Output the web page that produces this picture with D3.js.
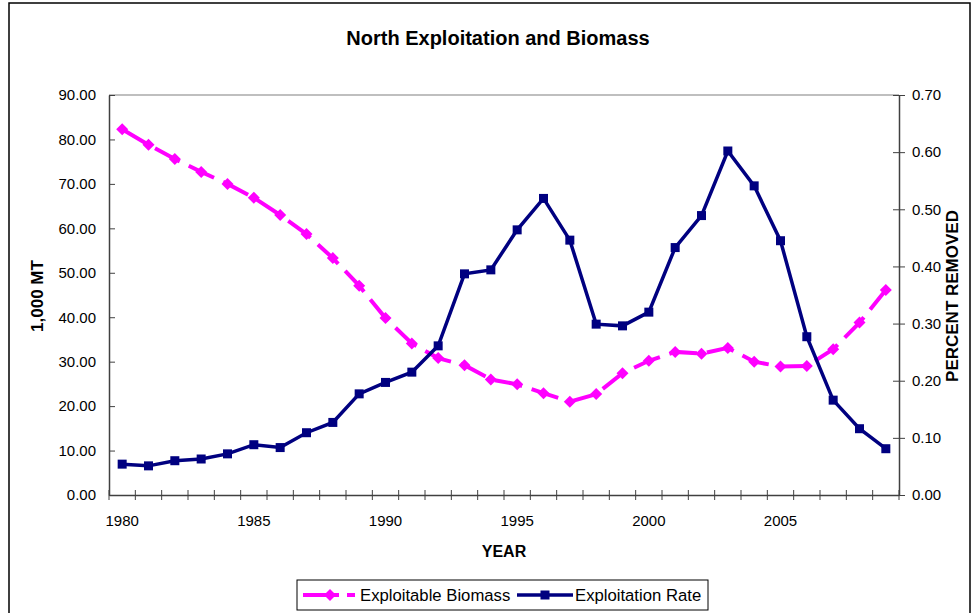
<!DOCTYPE html>
<html><head><meta charset="utf-8">
<script src="https://cdn.jsdelivr.net/npm/d3@7"></script>
<style>
html,body{margin:0;padding:0;background:#fff;}
svg{display:block;font-family:"Liberation Sans",Arial,sans-serif;}
</style></head>
<body>
<svg id="chart" width="974" height="613"></svg>
<script>
const years = d3.range(1980, 2010);
const biomass = [82.3,78.8,75.6,72.7,70.0,66.9,63.0,58.7,53.3,47.1,39.8,34.1,30.8,29.2,26.0,24.9,22.9,21.0,22.7,27.4,30.2,32.2,31.8,33.1,30.0,28.9,29.0,32.8,38.8,46.1];
const exploitation = [0.054,0.051,0.060,0.063,0.072,0.088,0.083,0.109,0.127,0.177,0.197,0.215,0.261,0.387,0.394,0.464,0.519,0.446,0.299,0.296,0.320,0.433,0.489,0.602,0.541,0.445,0.277,0.166,0.116,0.081];
const leftTicks = [0,10,20,30,40,50,60,70,80,90];
const rightTicks = [0,0.1,0.2,0.3,0.4,0.5,0.6,0.7];
const labelYears = [1980,1985,1990,1995,2000,2005];

const svg = d3.select("#chart");
const L = 109, R = 899, T = 95, B = 495;
const pink = "#FF00FF", navy = "#000080", axisCol = "#404040";

// outer frame
svg.append("rect").attr("x",9).attr("y",3).attr("width",961).attr("height",660)
  .attr("fill","none").attr("stroke","#000").attr("stroke-width",1.5);

const x = d3.scaleBand().domain(years).range([L,R]).paddingInner(0).paddingOuter(0);
const yL = d3.scaleLinear().domain([0,90]).range([B,T]);
const yR = d3.scaleLinear().domain([0,0.7]).range([B,T]);
const cx = d => x(d) + x.bandwidth()/2;

// plot area border (top)
svg.append("line").attr("x1",L).attr("x2",R).attr("y1",T).attr("y2",T)
  .attr("stroke","#808080").attr("stroke-width",1.2);

// left axis
const gl = svg.append("g").attr("transform",`translate(${L},0)`)
  .call(d3.axisLeft(yL).tickValues(leftTicks).tickFormat(d3.format(".2f")).tickSizeInner(6).tickSizeOuter(0).tickPadding(7));
gl.selectAll(".tick line").attr("x2",6);
// right axis
const gr = svg.append("g").attr("transform",`translate(${R},0)`)
  .call(d3.axisRight(yR).tickValues(rightTicks).tickFormat(d3.format(".2f")).tickSizeInner(6).tickSizeOuter(0).tickPadding(7));
gr.selectAll(".tick line").attr("x1",-6);
// bottom axis
const gb = svg.append("g").attr("transform",`translate(0,${B})`)
  .call(d3.axisBottom(x).tickValues([]).tickSizeOuter(0));
const bounds = years.map(d => x(d)).concat([R]);
gb.selectAll(".bt").data(bounds).enter().append("line").attr("class","bt")
  .attr("x1",d=>d).attr("x2",d=>d).attr("y1",-5).attr("y2",5).attr("stroke",axisCol);
gb.selectAll(".bl").data(labelYears).enter().append("text").attr("class","bl")
  .attr("x",d=>cx(d)).attr("y",31).attr("text-anchor","middle")
  .attr("fill","#000").attr("font-size",15).text(d=>d);

[gl,gr,gb].forEach(g=>{
  g.selectAll("path.domain").attr("stroke",axisCol).attr("stroke-width",1.5);
  g.selectAll(".tick line").attr("stroke",axisCol);
  g.selectAll(".tick text").attr("font-size",15).attr("fill","#000")
    .attr("font-family","Liberation Sans, Arial, sans-serif");
});

// titles
svg.append("text").attr("x",498).attr("y",45).attr("text-anchor","middle")
  .attr("font-size",20).attr("font-weight","bold").text("North Exploitation and Biomass");
svg.append("text").attr("x",504).attr("y",557).attr("text-anchor","middle")
  .attr("font-size",16).attr("font-weight","bold").text("YEAR");
svg.append("text").attr("transform","translate(43,296) rotate(-90)").attr("text-anchor","middle")
  .attr("font-size",17).attr("font-weight","bold").text("1,000 MT");
svg.append("text").attr("transform","translate(958,296) rotate(-90)").attr("text-anchor","middle")
  .attr("font-size",17).attr("font-weight","bold").text("PERCENT REMOVED");

// diamond marker (square rotated 45deg)
const dia = s => `M0,${-s}L${s},0L0,${s}L${-s},0Z`;

// biomass series
const lineB = d3.line().x((d,i)=>cx(years[i])).y(d=>yL(d));
svg.append("path").datum(biomass).attr("d",lineB).attr("fill","none")
  .attr("stroke",pink).attr("stroke-width",4).attr("stroke-dasharray","28,10");
svg.selectAll(".dm").data(biomass).enter().append("path").attr("class","dm")
  .attr("d",dia(6)).attr("fill",pink)
  .attr("transform",(d,i)=>`translate(${cx(years[i])},${yL(d)})`);

// exploitation series
const lineE = d3.line().x((d,i)=>cx(years[i])).y(d=>yR(d));
svg.append("path").datum(exploitation).attr("d",lineE).attr("fill","none")
  .attr("stroke",navy).attr("stroke-width",3.5);
svg.selectAll(".sq").data(exploitation).enter().append("rect").attr("class","sq")
  .attr("x",(d,i)=>cx(years[i])-4.5).attr("y",d=>yR(d)-4.5)
  .attr("width",9).attr("height",9).attr("fill",navy);

// legend
const lg = svg.append("g");
lg.append("rect").attr("x",297).attr("y",580).attr("width",411).attr("height",30)
  .attr("fill","#fff").attr("stroke","#000").attr("stroke-width",1);
lg.append("line").attr("x1",303).attr("x2",355).attr("y1",595).attr("y2",595)
  .attr("stroke",pink).attr("stroke-width",4).attr("stroke-dasharray","36,8");
lg.append("path").attr("d",dia(6)).attr("fill",pink).attr("transform","translate(330,595)");
lg.append("text").attr("x",360).attr("y",601).attr("font-size",16.7).text("Exploitable Biomass");
lg.append("line").attr("x1",517).attr("x2",573).attr("y1",595).attr("y2",595)
  .attr("stroke",navy).attr("stroke-width",3.5);
lg.append("rect").attr("x",540.5).attr("y",590.5).attr("width",9).attr("height",9).attr("fill",navy);
lg.append("text").attr("x",575).attr("y",601).attr("font-size",16.7).text("Exploitation Rate");
</script>
</body></html>
